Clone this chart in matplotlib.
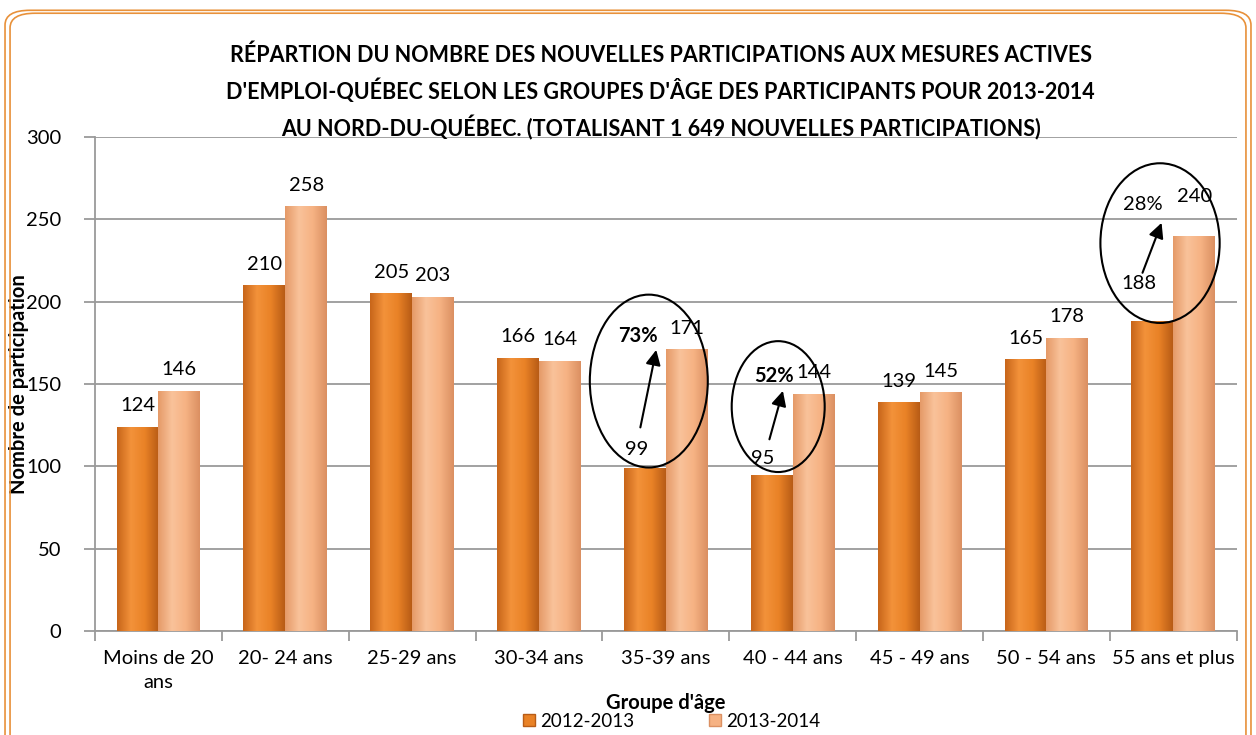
import matplotlib.pyplot as plt
import numpy as np
from matplotlib.patches import Ellipse, FancyBboxPatch, Patch
from matplotlib.colors import LinearSegmentedColormap

plt.rcParams['font.family'] = ['Lato', 'DejaVu Sans']

groupes = ['Moins de 20\nans', '20- 24 ans', '25-29 ans', '30-34 ans', '35-39 ans',
           '40 - 44 ans', '45 - 49 ans', '50 - 54 ans', '55 ans et plus']
v_2012 = [124, 210, 205, 166, 99, 95, 139, 165, 188]
v_2013 = [146, 258, 203, 164, 171, 144, 145, 178, 240]
series = ['2012-2013', '2013-2014']

# groupes mis en évidence : (index, hausse en %)
hausses = [(4, '73%'), (5, '52%'), (8, '28%')]

titre = ("RÉPARTION DU NOMBRE DES NOUVELLES PARTICIPATIONS AUX MESURES ACTIVES\n"
         "D'EMPLOI-QUÉBEC SELON LES GROUPES D'ÂGE DES PARTICIPANTS POUR 2013-2014\n"
         "AU NORD-DU-QUÉBEC. (TOTALISANT 1 649 NOUVELLES PARTICIPATIONS)")

fonce = LinearSegmentedColormap.from_list('f', ['#C8661A', '#F3923A', '#E98226', '#B85C16'])
clair = LinearSegmentedColormap.from_list('c', ['#E59A68', '#F9C29A', '#F6B283', '#DB9062'])

fs = 14.5
fig = plt.figure(figsize=(12.56, 7.35), dpi=100)
ax = fig.add_axes([0.0756, 0.1415, 0.909, 0.672])

x = np.arange(len(groupes))
w = 0.33
b1 = ax.bar(x - w / 2, v_2012, w, color='#E98226', zorder=3)
b2 = ax.bar(x + w / 2, v_2013, w, color='#F6B283', zorder=3)

grad = np.linspace(0, 1, 64).reshape(1, -1)
for bars, cmap in [(b1, fonce), (b2, clair)]:
    for p in bars:
        x0, y0 = p.get_x(), p.get_y()
        im = ax.imshow(grad, cmap=cmap, aspect='auto', zorder=3,
                       extent=[x0, x0 + p.get_width(), y0, y0 + p.get_height()])
        im.set_clip_path(p)
        p.set_facecolor('none')

ax.set_xlim(-0.5, len(groupes) - 0.5)
ax.set_ylim(0, 300)
ax.set_yticks(np.arange(0, 301, 50))
ax.yaxis.grid(True, color='#9A9A9A', lw=1.3, zorder=0)
ax.set_axisbelow(True)
for s in ['top', 'right']:
    ax.spines[s].set_visible(False)
ax.spines['left'].set_color('#9A9A9A')
ax.spines['bottom'].set_color('#9A9A9A')
ax.spines['left'].set_linewidth(1.3)
ax.spines['bottom'].set_linewidth(1.3)
ax.set_xticks(x)
ax.set_xticklabels(groupes, fontsize=fs, linespacing=1.5)
ax.set_xticks(np.arange(-0.5, len(groupes)), minor=True)
ax.tick_params(axis='x', which='major', length=0, pad=14)
ax.tick_params(axis='x', which='minor', length=7, color='#9A9A9A', width=1.3)
ax.tick_params(axis='y', length=8, color='#9A9A9A', width=1.3, labelsize=fs, pad=16)

ax.set_ylabel('Nombre de participation', fontsize=fs, fontweight='bold')
ax.yaxis.set_label_coords(-0.058, 0.5)
ax.set_xlabel("Groupe d'âge", fontsize=fs, fontweight='bold', labelpad=1)

special = [h[0] for h in hausses]
for i in range(len(groupes)):
    if i not in special:
        ax.annotate(str(v_2012[i]), (x[i] - w / 2, v_2012[i]), xytext=(0, 9),
                    textcoords='offset points', ha='center', va='bottom', fontsize=fs)
    off = 22 if i == 8 else 9
    ax.annotate(str(v_2013[i]), (x[i] + w / 2, v_2013[i]), xytext=(0, off),
                textcoords='offset points', ha='center', va='bottom', fontsize=fs)

# ellipses + flèches
ell = {4: (3.866, 151.8, 0.93, 105), 5: (4.886, 136.3, 0.733, 79.5), 8: (7.896, 235.6, 0.94, 97)}
fleche = {4: ((3.795, 122), (3.929, 172.4)), 5: ((4.811, 114.8), (4.929, 147.5)),
          8: ((7.75, 216), (7.916, 249.5))}
txt_bas = {4: (3.77, 110), 5: (4.76, 104.5), 8: (7.73, 211)}
txt_pct = {4: (3.78, 179), 5: (4.85, 155), 8: (7.76, 259)}
for i, pct in hausses:
    cx, cy, ew, eh = ell[i]
    ax.add_patch(Ellipse((cx, cy), ew, eh, fill=False, ec='black', lw=1.5, zorder=5))
    (xa, ya), (xb, yb) = fleche[i]
    ax.annotate('', xy=(xb, yb), xytext=(xa, ya), zorder=6,
                arrowprops=dict(arrowstyle='-|>,head_length=0.9,head_width=0.45',
                                color='black', lw=1.5))
    ax.text(*txt_bas[i], str(v_2012[i]), ha='center', va='center', fontsize=fs, zorder=6)
    ax.text(*txt_pct[i], pct, ha='center', va='center', fontsize=fs, zorder=6,
            fontweight='normal' if i == 8 else 'bold')

fig.text(0.526, 0.874, titre, ha='center', va='center', fontsize=15.5,
         fontweight='bold', linespacing=1.6)

handles = [Patch(facecolor='#E98226', edgecolor='#B85C16'),
           Patch(facecolor='#F6B283', edgecolor='#DB9062')]
fig.legend(handles, series, loc='center', bbox_to_anchor=(0.535, 0.019), ncol=2,
           frameon=False, fontsize=13.5, handlelength=0.6, handleheight=0.6,
           columnspacing=4, handletextpad=0.3)

# cadre orange arrondi
for inset, lw in [(0.004, 1.2), (0.008, 1.2)]:
    fig.patches.append(FancyBboxPatch((inset, inset - 0.06), 1 - 2 * inset, 1.05 - 2 * inset,
                                      boxstyle='round,pad=0,rounding_size=0.02',
                                      transform=fig.transFigure, fill=False,
                                      ec='#E8913A', lw=lw, zorder=10))

fig.savefig('out.png', dpi=100)
